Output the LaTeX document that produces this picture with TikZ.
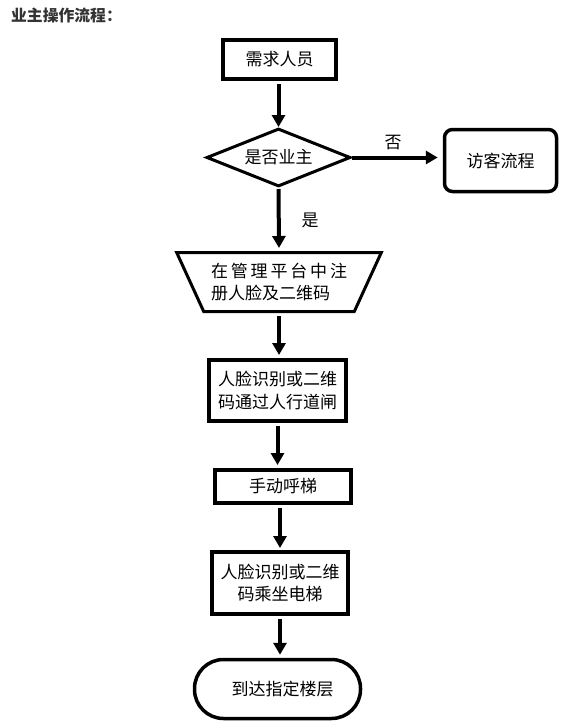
\documentclass[tikz,border=0pt]{standalone}
\usepackage{fontspec}
\setmainfont{Noto Sans CJK SC}
\usepackage{tikz}
\usetikzlibrary{shapes.geometric,arrows.meta}

\begin{document}
\begin{tikzpicture}[x=1pt,y=-1pt,
  every node/.style={font=\fontsize{17}{22.5}\selectfont,inner sep=0pt,align=center},
  box/.style={draw,rectangle,line width=4pt},
  round/.style={draw,rectangle,rounded corners=8pt,line width=3.5pt},
  decision/.style={draw,diamond,aspect=2.5,line width=3pt},
  trap/.style={draw,trapezium,shape border rotate=180,trapezium stretches=true,
    trapezium angle=57.5,line width=3pt},
  flow/.style={line width=4pt,shorten <=3pt,shorten >=3pt,
    -{Triangle[length=12pt,width=13pt]}}]

  \useasboundingbox (0,0) rectangle (587,728);

  \node [anchor=west,font=\fontsize{15.8}{18}\selectfont\bfseries,text=black!80] (title) at (11,15) {业主操作流程：};

  \node [box,minimum width=113pt,minimum height=39pt] (need) at (279.5,59.5) {需求人员};
  \node [decision,minimum width=144pt,minimum height=58pt] (owner) at (278.5,157.5) {是否业主};
  \node [round,minimum width=112pt,minimum height=62pt] (visitor) at (500.5,160.5) {访客流程};
  \node [trap,minimum width=205pt,minimum height=59pt,align=left] (reg) at (279,282)
    {\makebox[136pt][s]{在 管 理 平 台 中 注}\\册人脸及二维码};
  \node [box,minimum width=137pt,minimum height=61pt] (gate) at (277.5,390.5) {人脸识别或二维\\码通过人行道闸};
  \node [box,minimum width=136pt,minimum height=33pt] (call) at (283,486.5) {手动呼梯};
  \node [box,minimum width=136pt,minimum height=62pt] (ride) at (280,583) {人脸识别或二维\\码乘坐电梯};
  \node [round,rounded corners=29pt,minimum width=166pt,minimum height=59pt] (floor) at (277.5,689) {\hspace*{10pt}到达指定楼层};

  \node (no) at (393,143) {否};
  \node (yes) at (310,220) {是};

  \draw [flow,shorten >=0pt] (need.south -| owner.north) -- (owner.north);
  \draw [flow,shorten <=0pt,shorten >=5pt] (owner.east) -- (owner.east -| visitor.west);
  \draw [flow,shorten <=1pt] (owner.south) -- (reg.north);
  \draw [flow] (reg.south) -- (reg.south |- gate.north);
  \draw [flow] (gate.south) -- (gate.south |- call.north);
  \draw [flow,shorten >=2pt] (ride.north |- call.south) -- (ride.north);
  \draw [flow] (ride.south) -- (ride.south |- floor.north);
\end{tikzpicture}
\end{document}
